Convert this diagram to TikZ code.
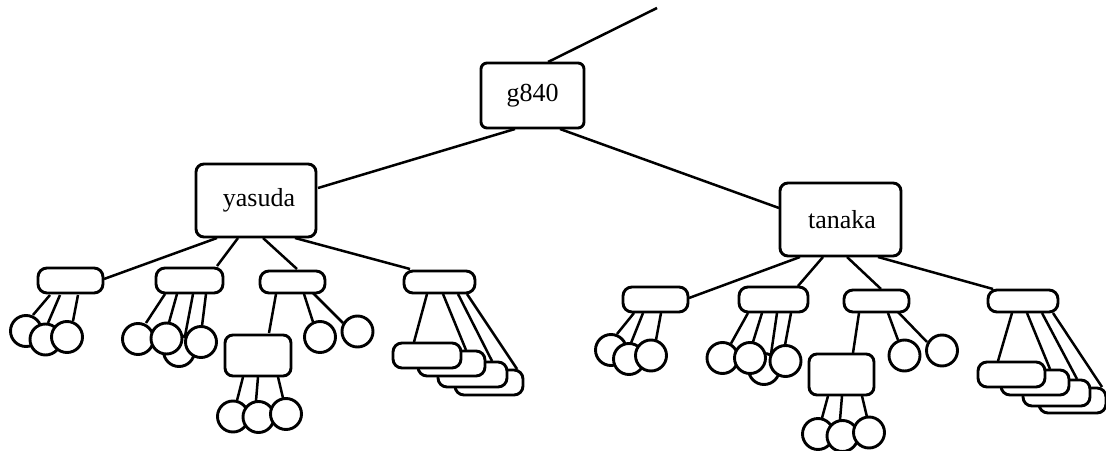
\documentclass[tikz,border=0pt]{standalone}
\usepackage{fontspec}
\setmainfont{Liberation Serif}
\usetikzlibrary{calc,backgrounds}
\newcommand\edgeto[6]{\draw ($(#1.center)+(#2,#3)$) -- ($(#4.center)+(#5,#6)$);}
\begin{document}
\begin{tikzpicture}[x=1pt,y=-1pt,line width=2.5pt,
  nodeline/.style={draw=black,fill=white,line width=2.9pt,inner sep=0pt},
  bigbox/.style={nodeline,rectangle,rounded corners=6pt,font=\fontsize{26}{29}\selectfont},
  namebox/.style={nodeline,rectangle,rounded corners=8pt,font=\fontsize{26}{29}\selectfont},
  pill/.style={nodeline,rectangle,rounded corners=9pt},
  midbox/.style={nodeline,rectangle,rounded corners=8pt},
  circ/.style={nodeline,circle,minimum size=31pt},
  conn/.style={line width=2.5pt,black}]
\useasboundingbox (0,0) rectangle (1106,450);
\clip (0,0) rectangle (1106,450);
% main boxes
\node[bigbox,minimum width=103pt,minimum height=65pt] (g840) at (532.5,95.5) {g840};
\node[namebox,minimum width=120pt,minimum height=73pt] (yasuda) at (256,200.5) {\hspace{6pt}yasuda};
\node[namebox,minimum width=121pt,minimum height=73pt] (tanaka) at (840.5,219.5) {\hspace{3pt}tanaka};
% second level
\node[pill,minimum width=65pt,minimum height=25pt] (Y1) at (70.5,280.5) {};
\node[pill,minimum width=67pt,minimum height=25pt] (Y2) at (189.5,280.5) {};
\node[pill,minimum width=65pt,minimum height=22pt] (Y3) at (292.5,282) {};
\node[pill,minimum width=71pt,minimum height=22pt] (Y4) at (439.5,282) {};
\node[pill,minimum width=65pt,minimum height=25pt] (T1) at (655.5,299.5) {};
\node[pill,minimum width=69pt,minimum height=25pt] (T2) at (773.5,299.5) {};
\node[pill,minimum width=65pt,minimum height=22pt] (T3) at (876.5,301) {};
\node[pill,minimum width=70pt,minimum height=22pt] (T4) at (1023,301) {};
% third level boxes
\node[midbox,minimum width=66pt,minimum height=41pt] (Y3a) at (258,355.5) {};
\node[midbox,minimum width=65pt,minimum height=41pt] (T3a) at (841.5,374.5) {};
\node[pill,minimum width=68pt,minimum height=25pt] (B4) at (489,382.5) {};
\node[pill,minimum width=69pt,minimum height=25pt] (B3) at (472.5,374.5) {};
\node[pill,minimum width=67pt,minimum height=25pt] (B2) at (451.5,363.5) {};
\node[pill,minimum width=68pt,minimum height=25pt] (B1) at (427,355.5) {};
\node[pill,minimum width=67pt,minimum height=25pt] (K4) at (1072.5,400.5) {};
\node[pill,minimum width=67pt,minimum height=26pt] (K3) at (1056.5,393) {};
\node[pill,minimum width=68pt,minimum height=25pt] (K2) at (1035,382.5) {};
\node[pill,minimum width=67pt,minimum height=25pt] (K1) at (1011.5,374.5) {};
% circles
\node[circ] (C1) at (26,331) {};
\node[circ] (C2) at (45.5,339.5) {};
\node[circ] (C3) at (67,337) {};
\node[circ] (D3) at (179,351) {};
\node[circ] (D1) at (138,339) {};
\node[circ] (D2) at (166.5,338.5) {};
\node[circ] (D4) at (201,342) {};
\node[circ] (E1) at (320,337) {};
\node[circ] (E2) at (357.5,331.5) {};
\node[circ] (F1) at (233,416.5) {};
\node[circ] (F2) at (258.5,417) {};
\node[circ] (F3) at (286,414) {};
\node[circ] (G1) at (611,350) {};
\node[circ] (G2) at (629,359) {};
\node[circ] (G3) at (651,355.5) {};
\node[circ] (H3) at (764,369) {};
\node[circ] (H1) at (722.5,358) {};
\node[circ] (H2) at (750,358) {};
\node[circ] (H4) at (785.5,361) {};
\node[circ] (I1) at (904.5,355.5) {};
\node[circ] (I2) at (942,350.5) {};
\node[circ] (J1) at (818,434) {};
\node[circ] (J2) at (842.5,436) {};
\node[circ] (J3) at (869,432.5) {};
\coordinate (topend) at (657,8);
\begin{scope}[on background layer]
\begin{scope}[conn]
\draw ($(g840.center)+(15.5,-33.5)$) -- (topend);
\edgeto{g840}{-17.5}{33.5}{yasuda}{62}{-12.5}
\edgeto{g840}{27.5}{33.5}{tanaka}{-61.5}{-11.5}
\edgeto{yasuda}{-39}{37.5}{Y1}{33.5}{-1.5}
\edgeto{yasuda}{-18}{37.5}{Y2}{27.5}{-14.5}
\edgeto{yasuda}{7}{37.5}{Y3}{4.5}{-13}
\edgeto{yasuda}{39}{37.5}{Y4}{-29.5}{-13}
\edgeto{Y1}{-20.5}{14.5}{C1}{7}{-16}
\edgeto{Y1}{-10.5}{14.5}{C2}{2.5}{-16.5}
\edgeto{Y1}{7.5}{14.5}{C3}{6}{-16}
\edgeto{Y2}{-24.5}{13.5}{D1}{8}{-16}
\edgeto{Y2}{-12.5}{13.5}{D2}{2.5}{-16}
\edgeto{Y2}{3.5}{13.5}{D3}{6}{-15}
\edgeto{Y2}{16.5}{13.5}{D4}{1}{-16}
\edgeto{Y3}{-16.5}{12}{Y3a}{11}{-22.5}
\edgeto{Y3}{11.5}{12}{E1}{-7}{-15}
\edgeto{Y3}{20.5}{11}{E2}{-14.5}{-8.5}
\edgeto{Y3a}{-15}{21.5}{F1}{4}{-16}
\edgeto{Y3a}{0}{21.5}{F2}{-2.5}{-16}
\edgeto{Y3a}{20}{21.5}{F3}{-3}{-16}
\edgeto{Y4}{-12.5}{12}{B1}{-13}{-13.5}
\edgeto{Y4}{3.5}{12}{B2}{14.5}{-13.5}
\edgeto{Y4}{18.5}{12}{B3}{19.5}{-13.5}
\edgeto{Y4}{27.5}{12}{B4}{28}{-13.5}
\edgeto{tanaka}{-40.5}{37.5}{T1}{33.5}{-1.5}
\edgeto{tanaka}{-17.5}{37.5}{T2}{24.5}{-13.5}
\edgeto{tanaka}{6.5}{37.5}{T3}{4.5}{-12}
\edgeto{tanaka}{37.5}{37.5}{T4}{-30}{-12}
\edgeto{T1}{-21.5}{13.5}{G1}{6}{-16}
\edgeto{T1}{-12.5}{13.5}{G2}{2}{-16}
\edgeto{T1}{5.5}{13.5}{G3}{5}{-15.5}
\edgeto{T2}{-25.5}{13.5}{H1}{8.5}{-14.5}
\edgeto{T2}{-11.5}{13.5}{H2}{3}{-16}
\edgeto{T2}{3.5}{13.5}{H3}{7}{-15}
\edgeto{T2}{17.5}{13.5}{H4}{-0.5}{-16}
\edgeto{T3}{-17.5}{12}{T3a}{11.5}{-21.5}
\edgeto{T3}{11.5}{12}{I1}{-6.5}{-15.5}
\edgeto{T3}{21.5}{11}{I2}{-15}{-8.5}
\edgeto{T3a}{-13.5}{21.5}{J1}{4}{-16}
\edgeto{T3a}{0.5}{21.5}{J2}{-2.5}{-16}
\edgeto{T3a}{20.5}{21.5}{J3}{-2}{-15.5}
\edgeto{T4}{-11}{12}{K1}{-13.5}{-13.5}
\edgeto{T4}{4}{12}{K2}{15}{-13.5}
\edgeto{T4}{19}{12}{K3}{20.5}{-14}
\edgeto{T4}{30}{12}{K4}{29.5}{-13.5}
\end{scope}
\end{scope}
\end{tikzpicture}
\end{document}
